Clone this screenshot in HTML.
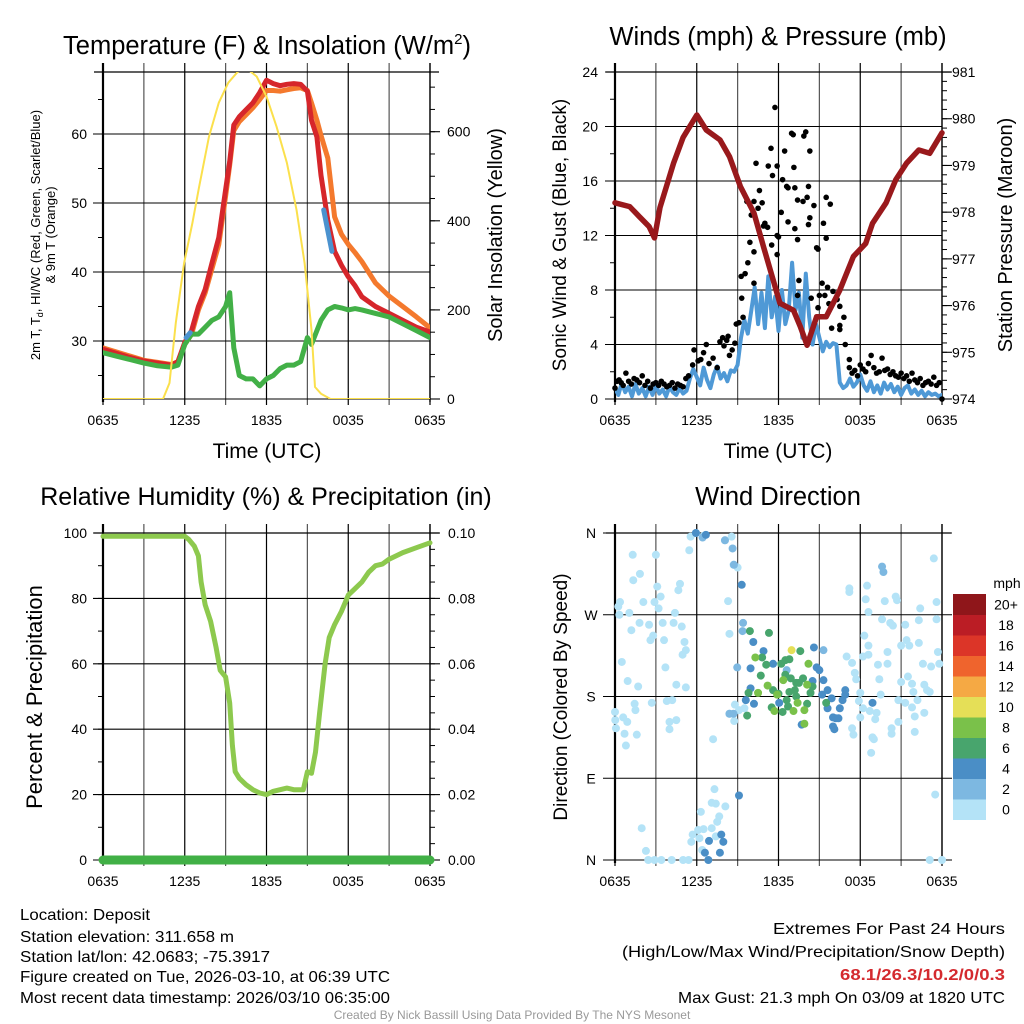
<!DOCTYPE html>
<html><head><meta charset="utf-8"><style>
html,body{margin:0;padding:0;background:#fff;}
svg{display:block;font-family:"Liberation Sans",sans-serif;}
</style></head><body>
<svg id="root" width="1024" height="1024" viewBox="0 0 1024 1024" xmlns="http://www.w3.org/2000/svg">
<defs>
<clipPath id="c1"><rect x="103" y="72" width="327" height="327"/></clipPath>
<clipPath id="c2"><rect x="615" y="72" width="327" height="327"/></clipPath>
</defs>
<text x="267" y="54" font-size="25.5" text-anchor="middle">Temperature (F) &amp; Insolation (W/m<tspan font-size="15" dy="-10">2</tspan><tspan dy="10">)</tspan></text>
<text x="778" y="45" font-size="25.5" text-anchor="middle">Winds (mph) &amp; Pressure (mb)</text>
<text x="266" y="505" font-size="25" text-anchor="middle">Relative Humidity (%) &amp; Precipitation (in)</text>
<text x="778" y="505" font-size="25.5" text-anchor="middle">Wind Direction</text>

<text transform="translate(40,235) rotate(-90)" font-size="13" text-anchor="middle">2m T, T<tspan font-size="9" dy="3">d</tspan><tspan dy="-3">, HI/WC (Red, Green, Scarlet/Blue)</tspan></text>
<text transform="translate(55,235) rotate(-90)" font-size="13" text-anchor="middle">&amp; 9m T (Orange)</text>
<text transform="translate(502,235) rotate(-90)" font-size="20" text-anchor="middle">Solar Insolation (Yellow)</text>
<text transform="translate(566,235) rotate(-90)" font-size="19" text-anchor="middle">Sonic Wind &amp; Gust (Blue, Black)</text>
<text transform="translate(1012,235) rotate(-90)" font-size="20" text-anchor="middle">Station Pressure (Maroon)</text>
<text transform="translate(42,697) rotate(-90)" font-size="22" text-anchor="middle">Percent &amp; Precipitation</text>
<text transform="translate(567,697) rotate(-90)" font-size="19" text-anchor="middle">Direction (Colored By Speed)</text>
<text x="267" y="458" font-size="21" text-anchor="middle">Time (UTC)</text>
<text x="778" y="458" font-size="21" text-anchor="middle">Time (UTC)</text>

<g font-size="16">
<text x="20" y="920" textLength="130" lengthAdjust="spacingAndGlyphs">Location: Deposit</text>
<text x="20" y="942" textLength="214" lengthAdjust="spacingAndGlyphs">Station elevation: 311.658 m</text>
<text x="20" y="962" textLength="250" lengthAdjust="spacingAndGlyphs">Station lat/lon: 42.0683; -75.3917</text>
<text x="20" y="982" textLength="370" lengthAdjust="spacingAndGlyphs">Figure created on Tue, 2026-03-10, at 06:39 UTC</text>
<text x="20" y="1003" textLength="370" lengthAdjust="spacingAndGlyphs">Most recent data timestamp: 2026/03/10 06:35:00</text>
</g>
<g font-size="16" text-anchor="end">
<text x="1005" y="934" textLength="232" lengthAdjust="spacingAndGlyphs">Extremes For Past 24 Hours</text>
<text x="1005" y="957" textLength="383" lengthAdjust="spacingAndGlyphs">(High/Low/Max Wind/Precipitation/Snow Depth)</text>
<text x="1005" y="980" textLength="165" lengthAdjust="spacingAndGlyphs" fill="#d42a2f" font-weight="bold">68.1/26.3/10.2/0/0.3</text>
<text x="1005" y="1003" textLength="327" lengthAdjust="spacingAndGlyphs">Max Gust: 21.3 mph On 03/09 at 1820 UTC</text>
</g>
<text x="512" y="1019" font-size="12" fill="#999" text-anchor="middle">Created By Nick Bassill Using Data Provided By The NYS Mesonet</text>
</svg>
<script>
// ---- data ----
const xTickHours = [0,6,12,18,24];
const xTickLabels = ["0635","1235","1835","0035","0635"];
const tempT = [0,1,2,3,4,5,5.5,6,6.5,7,7.5,8,8.5,9,9.3,9.6,10,10.5,11,11.5,12,12.5,13,13.5,14,14.5,15,15.3,15.7,16,16.5,17,17.5,18,18.5,19,20,21,22,23,24];
const redTemp = [28.8,28.2,27.6,27.1,26.8,26.5,27.0,29.8,31.5,35,37.5,41.3,45,51.9,56,61.3,62.5,63.5,64.5,66,67.8,67.3,67,67.2,67.3,67.2,66.2,62,59.6,54,47.5,43,41,39.3,38,36.4,35,34,33,32,31.3];
const orangeTemp = [29,28.4,27.8,27.2,26.9,26.6,27.0,29.5,31,34.5,37,40.5,44,51,55.5,60.5,61.8,62.8,63.8,65,66.3,66.3,66.2,66.4,66.6,66.7,66.3,64.5,62,59.8,56.5,48,45.5,44,42.8,41.5,38.4,36.5,35,33.5,31.9];
const greenDew = [28.3,27.8,27.3,26.8,26.4,26.2,26.5,29.5,31,31,32,33,33.5,35,37,29,25,24.5,24.5,23.5,24.5,25,26,26.5,26.5,27,30.5,29.5,31.5,33,34.5,35,34.8,34.5,34.7,34.5,34,33.5,32.5,31.5,30.5];
const blueT = [16.2,16.5,16.8];
const blueV = [49,46,43];
const blue2T = [6.1,6.4];
const blue2V = [30.5,31.2];
const solT = [0,4.4,4.88,5.34,5.95,6.56,7.05,7.78,8.5,9.2,9.9,10.54,11.28,12.0,12.74,13.5,14.2,14.8,15.3,15.56,16.0,16.7,24];
const solV = [0,0,36,171,305,395,476,589,665,710,735,742,724,679,611,530,425,305,155,27,12,0,0];
const tempTicks = [30,40,50,60];
const solTicks = [0,200,400,600];

const windV = [0.8,0.3,1.2,0.5,0.9,0.2,1.1,0.4,0.8,0.2,0.9,0.3,1.0,0.4,0.7,0.2,0.9,0.5,0.3,0.8,0.4,0.6,
 1.5,2.2,1.6,1.0,2.3,1.4,0.8,1.8,2.4,1.5,1.9,1.3,2.1,2.0,
 2.5,4.5,5.8,4.8,
 6.5,8.2,5.5,7.8,5.2,9.0,6.0,7.5,5.0,8.0,5.5,6.5,
 10.0,6.5,7.8,4.5,9.2,6.0,4.0,5.5,
 4.5,3.5,4.2,3.8,4.1,4.0,
 1.2,0.8,1.0,1.5,0.9,1.2,1.8,1.0,0.6,1.3,0.5,1.0,0.4,1.2,0.7,1.1,0.5,0.9,0.3,0.8,1.0,0.4,0.7,0.3,0.6,0.2,0.5,0.3,0.4,0.2,0.3];
const windStep = 0.25;
const gustT = [0,0.15,0.3,0.45,0.6,0.8,1.0,1.2,1.4,1.6,1.8,2.0,2.2,2.4,2.6,2.8,3.0,3.2,3.4,3.6,3.8,4.0,4.2,4.4,4.6,4.8,5.0,5.2,
 5.4,5.7,5.8,6.1,6.3,6.5,6.7,6.9,7.2,7.5,7.7,7.9,8.0,8.2,8.3,8.4,8.6,8.8,8.9,
 11.74,11.45,10.35,11.25,11.9,11.56,12.3,12.45,12.96,13.08,13.13,12.6,12.7,13.2,14.0,13.86,14.3,14.2,14.1,13.4,13.8,14.6,15.5,15.8,10.6,9.68,10.2,10.8,9.9,10.2,11.5,11.9,11.2,12.2,12.7,13.2,13.4,14.3,14.2,15.3,14.8,14.9,15.5,13.4,11.9,9.75,9.26,9.55,9.3,10.2,9.4,9.1,13.5,14.4,15.2,15.6,16.0,15.4,15.7,16.3,16.5,15.9,16.5,16.8,16.5,16.9,17.2,17.2,14.9,15.0,10.9,11.0,12.0,10.5,10.0,
 17.4,17.6,17.8,18.0,18.2,18.4,18.6,18.8,19.0,19.2,19.4,19.6,19.8,20.0,20.2,20.4,20.6,20.8,21.0,21.2,21.4,21.6,21.8,22.0,22.2,22.4,22.6,22.8,23.0,23.2,23.4,23.6,23.8,24.0];
const gustV = [0.8,1.3,1.4,1.2,1.0,1.9,1.3,1.1,1.5,1.4,1.2,1.7,1.0,1.3,0.8,1.1,1.2,1.0,1.3,1.1,0.9,1.0,1.2,0.8,1.1,1.0,0.9,1.5,
 1.7,2.5,3.6,2.8,2.9,3.4,4.0,2.6,3.0,2.3,4.2,4.5,3.9,4.3,4.6,3.2,3.6,4.1,5.5,
 21.4,18.4,17.3,17.1,17.1,16.4,16.1,18.2,19.5,19.4,17.0,15.6,15.5,15.5,19.6,19.3,18.2,15.6,14.8,14.6,14.5,14.2,14.8,14.3,15.3,14.5,14.5,14.4,11.5,10.8,11.3,12.0,12.6,13.7,13.0,12.5,11.7,13.3,12.8,12.9,11.1,11.0,11.8,7.6,10.6,10.0,9.0,9.2,7.4,8.5,6.0,5.6,8.7,7.4,8.5,8.2,7.9,7.6,7.0,7.3,6.8,5.2,5.1,6.0,5.4,4.0,2.9,2.3,6.7,7.6,12.7,12.9,11.9,14.0,13.5,
 1.9,2.1,1.7,2.5,2.2,2.0,2.6,3.2,2.3,1.9,2.0,3.0,2.1,2.2,1.8,2.0,1.7,1.6,1.9,1.5,1.7,1.3,1.9,1.4,1.2,1.5,1.0,1.2,1.3,1.1,1.6,1.0,1.2,0.0];
const presT = [0,1.08,1.8,2.5,2.9,3.3,4.3,5,6,6.7,7.7,8.4,9.2,10.2,10.9,11.4,12.1,13.1,13.6,14.1,14.8,15.5,16.5,17.5,18.4,18.9,19.9,20.6,21.4,22.3,23.1,24];
const presV = [978.2,978.12,977.9,977.69,977.45,978.1,979.05,979.6,980.08,979.76,979.55,979.19,978.55,977.98,977.26,976.76,976.05,975.9,975.55,975.15,975.76,975.76,976.33,977.05,977.33,977.76,978.2,978.69,979.05,979.33,979.26,979.7];
const windTicks = [0,4,8,12,16,20,24];
const presTicks = [974,975,976,977,978,979,980,981];

const rhT = [0,6,6.3,6.7,7,7.2,7.5,7.9,8.3,8.6,9,9.3,9.5,9.7,10,10.5,11,11.5,12,12.5,13,13.5,14,14.7,15,15.3,15.6,15.9,16.3,16.6,17,17.5,18,18.5,19,19.5,20,20.5,21,22,23,24];
const rhV = [99,99,98,96,93,85,78,73,65,58,56,48,35,27,25,23,21.5,20.5,20,21,21.5,22,21.5,21.5,27,26.5,33,45,60,68,72,76,81,83,85,88,90,90.5,92,94,95.5,97];
const precipT = [0,24];
const precipV = [0,0];
const rhTicks = [0,20,40,60,80,100];
const precipTicks = ["0.00","0.02","0.04","0.06","0.08","0.10"];

const dirT = [1.3,3.0,1.34,1.83,0.37,0.24,0.32,1.05,2.08,3.1,3.35,3.2,2.9,1.2,1.8,2.5,3.5,4.77,4.65,4.4,4.3,4.9,2.8,2.6,3.6,5.1,4.96,5.2,0.5,3.7,0.93,1.7,4.5,5.2,1.44,2.7,1.5,3.8,4.2,0,0.02,0.07,0.6,0.9,0.7,1.6,0.8,4.0,4.5,4.0,5.45,5.94,6.5,5.55,7.2,8.56,8.07,8.3,8.4,8.8,8.4,8.75,9.1,9.5,8.7,9.0,
 1.96,2.27,2.44,2.9,3.4,4.16,5.0,5.4,6.3,6.1,5.7,6.5,6.2,5.6,7.3,7.1,7.4,8.1,7.65,7.5,7.1,7.4,6.4,
 17.2,17.2,18.5,18.4,18.6,18.3,19.8,20.6,20.7,19.6,20.2,20.4,21.3,21.4,21.6,21.0,22.3,22.4,22.3,23.4,23.6,23.6,23.7,23.8,23.2,22.6,20.0,20.0,19.3,19.4,21.0,21.5,21.8,21.9,22.7,22.9,23.1,22.2,20.8,21.3,21.8,22.0,22.7,22.0,20.8,20.3,20.3,17.0,17.4,17.6,17.7,18.0,17.9,18.2,18.7,19.2,19.1,18.0,17.4,17.5,18.9,19.0,18.8,19.5,23.5,23.1,24,18.6,18.6,18.2,
 6.43,8.07,8.63,8.73,19.6,9.4,9.36,15.3,8.97,8.4,8.7,19.7,12.6,
 9.3,10.15,9.95,9.95,10.9,11.6,9.6,10.2,14.6,14.8,15.0,14.5,15.3,15.6,15.2,15.9,16.7,16.9,16.9,16.5,16.2,16.0,16.4,16.1,16.0,15.6,13.7,12.05,9.1,7.8,7.95,6.9,6.6,7.7,6.85,18.9,5.94,6.67,
 9.9,11.3,13.6,10.7,11.1,10.8,11.6,12.2,12.5,12.8,12.9,13.3,13.5,13.8,12.8,13.2,13.3,12.6,12.7,12.3,11.5,14.1,14.35,14.5,15.5,9.7,9.8,12.0,12.5,
 10.3,11.2,10.5,14.2,12.35,11.9,11.7,13.1,13.4,13.9,13.9,14.1,
 12.96];
const dirDeg = [336,336,308,315,284,279,270,272,284,301,290,277,284,253,261,259,261,304,297,272,261,257,247,242,242,240,226,231,218,212,197,191,193,190,172,173,165,175,176,163,154,145,157,152,139,138,126,152,154,144,341,360,357,356,133,356,352,285,249,171,161,153,165,167,325,322,
 35,10,0,0,0,0,0,0,53,33,28,34,24,20,78,63,62,59,48,42,35,26,11,
 299,295,302,287,273,247,285,290,286,265,261,258,259,242,236,236,239,277,264,332,284,265,229,216,213,216,229,216,215,199,196,202,194,185,193,187,185,176,176,173,168,158,162,141,152,145,139,224,217,206,199,184,175,167,164,162,155,157,145,138,135,133,118,182,72,0,0,236,226,224,
 355,352,343,325,323,261,252,231,212,161,161,317,209,
 303,240,211,189,230,216,176,172,234,212,209,197,198,187,182,178,176,182,187,167,156,157,156,144,147,167,149,173,71,28,20,21,8,8,0,173,360,358,
 252,250,230,203,215,223,187,216,220,221,200,195,195,200,185,187,180,176,169,163,168,172,184,191,173,159,184,183,204,
 223,192,184,216,198,182,164,164,173,165,150,193,
 231];
const dirSpd = [];
[66,23,70,13,38,29,12,1].forEach((n,i)=>{const s=[1,1,1,3,5,7,9,11][i];for(let k=0;k<n;k++)dirSpd.push(s);});
const dirTicks = [0,90,180,270,360];
const dirLabels = ["N","E","S","W","N"];
const speedBins = [0,2,4,6,8,10,12,14,16,18,20];
const speedLabels = ["0","2","4","6","8","10","12","14","16","18","20+"];
const speedColors = ["#b4e3f7","#7db8e1","#4a8ec6","#48a56d","#7ac14a","#e5df57","#f5a944","#ef642d","#dc3528","#bb1d25","#8f161a"];

// ---- drawing ----
const NS='http://www.w3.org/2000/svg';
const root=document.getElementById('root');
function mk(tag,parent){const e=document.createElementNS(NS,tag);parent.appendChild(e);return e;}
function line(p,x1,y1,x2,y2,st,w){const l=mk('line',p);l.setAttribute('x1',x1);l.setAttribute('y1',y1);l.setAttribute('x2',x2);l.setAttribute('y2',y2);l.setAttribute('stroke',st);l.setAttribute('stroke-width',w);return l;}
function txt(p,x,y,s,anchor,size){const t=mk('text',p);t.setAttribute('x',x);t.setAttribute('y',y);t.setAttribute('font-size',size||14);t.setAttribute('text-anchor',anchor);t.textContent=s;return t;}
function poly(p,xs,ys,xf,yf,col,w){const pl=mk('polyline',p);pl.setAttribute('points',xs.map((t,i)=>xf(t).toFixed(1)+','+yf(ys[i]).toFixed(1)).join(' '));pl.setAttribute('fill','none');pl.setAttribute('stroke',col);pl.setAttribute('stroke-width',w);pl.setAttribute('stroke-linejoin','round');pl.setAttribute('stroke-linecap','round');return pl;}

function frame(name,x0,x1,y0,y1,xs){
  const g=mk('g',root);
  
  
  for(let h=0;h<=24;h+=3){const x=xs(h);const l=line(g,x,y0-9,x,y1+6,(h%6===0)?'#000':'#555',1.2);
    
    }
  xTickHours.forEach((h,i)=>{const t=txt(g,xs(h),y1+26,xTickLabels[i],'middle',14);
    
    });
  line(g,x0-9,y0,x1+9,y0,'#000',1.3);
  line(g,x0,y0-9,x0,y1+3,'#000',2.2);
  line(g,x1,y0-9,x1,y1+3,'#000',1.3);
  return g;
}
function hgrid(g,ticks,yf,x0,x1,labelFn,lx,anchor){
  ticks.forEach((v,i)=>{const y=yf(v);const l=line(g,x0-10,y,x1,y,'#000',1.1);
    
    
    const t=txt(g,lx,y+5,labelFn(v,i),anchor,14);
    
    });
}
function rticks(g,ticks,yf,x1,labelFn,lx,minStep,lo,hi){
  for(let v=lo;v<=hi+1e-9;v+=minStep){const y=yf(v);line(g,x1,y,x1+5,y,'#000',1);}
  ticks.forEach((v,i)=>{const y=yf(v);line(g,x1,y,x1+10,y,'#000',1.1);
    const t=txt(g,lx,y+5,labelFn(v,i),'start',14);
    
    });
}
function lminor(g,yf,x0,lo,hi,step){for(let v=lo;v<=hi+1e-9;v+=step){line(g,x0-5,yf(v),x0,yf(v),'#000',1);}}

// Panel 1
(function(){
  const xs=h=>103+h*327/24, yT=v=>341-(v-30)*6.9, yS=v=>399-v*0.4455;
  const g=frame('temperature',103,430,72,399,xs);
  hgrid(g,tempTicks,yT,103,430,v=>String(v),87,'end');
  lminor(g,yT,103,25,65,5);
  rticks(g,solTicks,yS,430,v=>String(v),447,50,0,700);
  line(g,103,399,430,399,'#000',1.1);
  const d=mk('g',root);d.setAttribute('clip-path','url(#c1)');
  
  
  let s;
  s=poly(d,tempT,orangeTemp,xs,yT,'#f4792d',5);
  
  
  s=poly(d,tempT,redTemp,xs,yT,'#d6262b',5);
  
  
  s=poly(d,tempT,greenDew,xs,yT,'#42b047',5);
  
  
  s=poly(d,blueT,blueV,xs,yT,'#4b92cf',5);
  
  
  s=poly(d,blue2T,blue2V,xs,yT,'#4b92cf',5);
  
  
  s=poly(d,solT,solV,xs,yS,'#fbe04c',2);
  
  
})();

// Panel 2
(function(){
  const xs=h=>615+h*327/24, yW=v=>399-v*13.625, yP=v=>399-(v-974)*46.71;
  const g=frame('winds',615,942,72,399,xs);
  hgrid(g,windTicks,yW,615,942,v=>String(v),598,'end');
  lminor(g,yW,615,2,22,4);
  rticks(g,presTicks,yP,942,v=>String(v),952,0.2,974,981);
  const d=mk('g',root);d.setAttribute('clip-path','url(#c2)');
  
  
  const wt=windV.map((v,i)=>i*windStep);
  let s=poly(d,wt,windV,xs,yW,'#4f99d6',4);
  
  
  const gg=mk('g',root);
  
  
  gustT.forEach((t,i)=>{const c=mk('circle',gg);c.setAttribute('cx',xs(t));c.setAttribute('cy',yW(gustV[i]));c.setAttribute('r',2.8);c.setAttribute('fill','#000');
    
    });
  s=poly(root,presT,presV,xs,yP,'#99191c',5.5);
  
  
})();

// Panel 3
(function(){
  const xs=h=>103+h*327/24, yR=v=>860-v*3.27, yPr=v=>860-v*3270;
  const g=frame('humidity',103,430,533,860,xs);
  hgrid(g,rhTicks,yR,103,430,v=>String(v),87,'end');
  lminor(g,yR,103,10,90,10);
  rticks(g,rhTicks,yR,430,(v,i)=>precipTicks[i],448,5,0,100);
  let s=poly(root,rhT,rhV,xs,yR,'#8dc94e',5);
  
  
  s=poly(root,precipT,precipV,xs,yPr,'#41b046',9);
  
  
})();

// Panel 4
(function(){
  const xs=h=>615+h*327/24, yD=v=>860-v*327/360;
  const g=frame('wind-direction',615,942,533,860,xs);
  dirTicks.forEach((v,i)=>{const y=yD(v);const l=line(g,603,y,952,y,'#000',1.1);
    
    
    const t=txt(g,591,y+5,dirLabels[i],'middle',14);
    
    });
  const pg=mk('g',root);
  
  
  dirT.forEach((t,i)=>{const sp=dirSpd[i];let b=0;for(let k=0;k<speedBins.length;k++){if(sp>=speedBins[k])b=k;}
    const c=mk('circle',pg);c.setAttribute('cx',xs(t));c.setAttribute('cy',yD(Math.min(dirDeg[i],360)));c.setAttribute('r',4);c.setAttribute('fill',speedColors[b]);
    
    });
  const cb=mk('g',root);
  
  
  const top=594,bh=20.5;
  const ut=txt(cb,1007,588,'mph','middle',14);
  
  
  speedColors.forEach((col,i)=>{const k=speedColors.length-1-i;const y=top+k*bh;
    const r=mk('rect',cb);r.setAttribute('x',953);r.setAttribute('y',y);r.setAttribute('width',33);r.setAttribute('height',bh+0.5);r.setAttribute('fill',col);
    
    
    const t=txt(cb,1006,y+bh/2+5,speedLabels[i],'middle',14);
    
    });
})();
</script>
</body></html>
